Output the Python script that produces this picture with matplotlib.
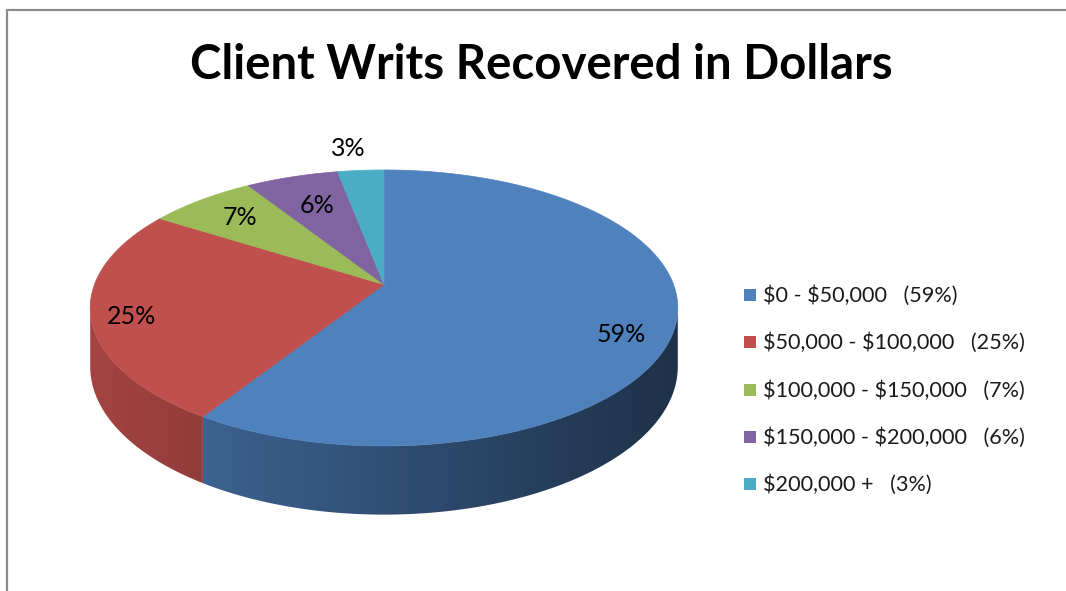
import numpy as np
import matplotlib
matplotlib.use("Agg")
import matplotlib.pyplot as plt
from matplotlib.patches import Polygon, Rectangle
from matplotlib.colors import to_rgb

# ---------------- data ----------------
categories = ["$0 - $50,000", "$50,000 - $100,000", "$100,000 - $150,000",
              "$150,000 - $200,000", "$200,000 +"]
values = [59, 25, 7, 6, 3]
pct_labels = ["59%", "25%", "7%", "6%", "3%"]
legend_pct = ["(59%)", "(25%)", "(7%)", "(6%)", "(3%)"]
colors = ["#4F81BD", "#C0504D", "#9BBB59", "#8064A2", "#4BACC6"]
title = "Client Writs Recovered in Dollars"

# ---------------- layout ----------------
W, H = 1066, 591
plt.rcParams["font.family"] = ["Lato", "DejaVu Sans"]
fig = plt.figure(figsize=(W / 100, H / 100), dpi=100)
ax = fig.add_axes([0, 0, 1, 1])
ax.set_xlim(0, W)
ax.set_ylim(H, 0)
ax.axis("off")

# 3-D pie projection (perspective view of a tilted disc)
CX, CY = 384.0, 284.5     # centre of top face
A, B = 289.5, 134.0       # horizontal / vertical radii
K = 0.17                  # perspective strength
DEPTH = 57.0              # thickness


def proj(t_deg, r=1.0):
    t = np.radians(t_deg)
    u, v = r * np.cos(t), r * np.sin(t)
    s = 1.0 / (1.0 + K * v)
    return CX + A * u * s, CY - B * v * s


def depth(t_deg):
    return DEPTH / (1.0 + K * np.sin(np.radians(t_deg)))


def shade(x):
    return np.clip(0.85 - 0.0008 * (x - 90.0), 0.3, 1.0)


total = float(sum(values))
cum = np.concatenate([[0.0], np.cumsum(values)]) / total
theta_hi = 90.0 - 360.0 * cum[:-1]   # start (counter-clockwise end)
theta_lo = 90.0 - 360.0 * cum[1:]

# silhouette extremes
tg = np.linspace(90, 450, 36001)
xg, _ = proj(tg)
front = (tg >= 90) & (tg <= 270)
t_left = tg[front][np.argmin(xg[front])]
back = (tg >= 270)
t_right = tg[back][np.argmax(xg[back])]

# side walls: gradient image clipped to each wedge's visible wall
xgrad = np.linspace(0, W, 1067)
for i in range(len(values)):
    base = np.array(to_rgb(colors[i]))
    for k in (-360.0, 0.0, 360.0):
        a = max(theta_lo[i] + k, t_left)
        b = min(theta_hi[i] + k, t_right)
        if b <= a:
            continue
        ts = np.linspace(a, b, 300)
        xs, ys = proj(ts)
        yb = ys + depth(ts)
        pts = list(zip(xs, ys)) + list(zip(xs[::-1], yb[::-1]))
        clip = Polygon(pts, closed=True, transform=ax.transData,
                       facecolor="none", edgecolor="none")
        img = (base[None, None, :] * shade(xgrad)[None, :, None])
        img = np.clip(img, 0, 1)
        im = ax.imshow(img, extent=(0, W, H, 0), aspect="auto",
                       interpolation="bilinear", zorder=1)
        im.set_clip_path(clip)

# top face
for i in range(len(values)):
    ts = np.linspace(theta_hi[i], theta_lo[i], 200)
    xs, ys = proj(ts)
    pts = [(CX, CY)] + list(zip(xs, ys))
    ax.add_patch(Polygon(pts, closed=True, facecolor=colors[i],
                         edgecolor=colors[i], linewidth=0.5, zorder=2))

ax.set_xlim(0, W)
ax.set_ylim(H, 0)

# percentage labels
label_r = [0.846, 0.87, 0.77, 0.70, 1.24]
label_dt = [-8.5, 2.5, 0.0, 0.0, 1.5]
renderer = fig.canvas.get_renderer()
lbl_objs = []
for i in range(len(values)):
    tm = 0.5 * (theta_hi[i] + theta_lo[i]) + label_dt[i]
    lx, ly = proj(tm, label_r[i])
    t = ax.text(lx, ly, pct_labels[i], ha="center", va="center",
                fontsize=20, color="#000000", zorder=3)
    lbl_objs.append(t)
bb = lbl_objs[0].get_window_extent(renderer)
fs_lbl = 20 * 49.0 / bb.width
for t in lbl_objs:
    t.set_fontsize(fs_lbl)

# title
tt = ax.text(541.5, 79, title, ha="center", va="baseline", fontsize=38,
             fontweight="bold", color="#000000")
bb = tt.get_window_extent(renderer)
tt.set_fontsize(38 * 703.0 / bb.width)

# legend
leg_y0, leg_dy = 295.0, 47.25
leg_objs = []
for i in range(len(values)):
    yc = leg_y0 + i * leg_dy
    ax.add_patch(Rectangle((744, yc - 6), 12, 12, facecolor=colors[i],
                           edgecolor="none", zorder=3))
    lab = (categories[i] + "   " + legend_pct[i]).replace("$", r"\$")
    t = ax.text(763, yc + 7, lab, ha="left", va="baseline", fontsize=17,
                color="#1A1A1A", zorder=3)
    leg_objs.append(t)
bb = leg_objs[0].get_window_extent(renderer)
fs_leg = 17 * 195.0 / bb.width
for t in leg_objs:
    t.set_fontsize(fs_leg)

# chart frame
ax.plot([7, 7, W + 5], [H + 5, 9.5, 9.5], color="#8C8C8C", lw=1.6,
        solid_capstyle="butt", clip_on=False)

fig.savefig("out.png", dpi=100)
